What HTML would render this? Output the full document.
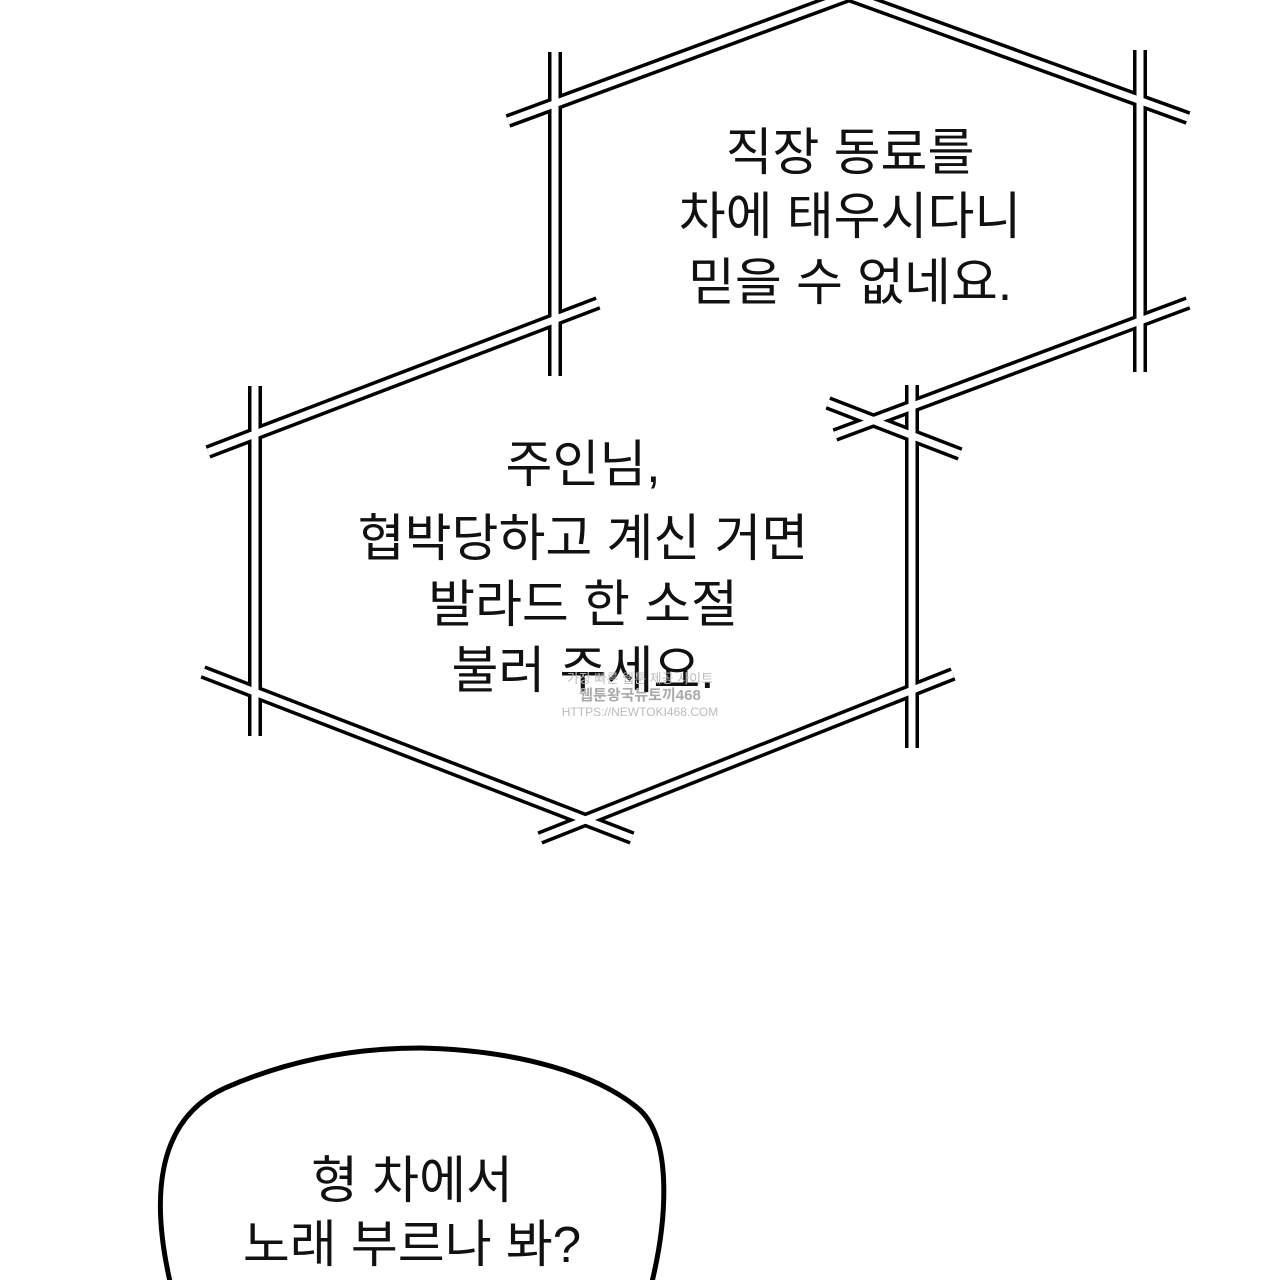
<!DOCTYPE html>
<html><head><meta charset="utf-8"><style>
html,body{margin:0;padding:0;background:#fff;width:1280px;height:1280px;overflow:hidden}
svg{display:block}
text{font-family:"Liberation Sans","Noto Sans CJK KR","NanumGothic",sans-serif;font-size:51px;fill:#111;text-anchor:middle}
</style></head><body>
<svg width="1280" height="1280" viewBox="0 0 1280 1280">
<g id="bars" stroke-linecap="butt">
<g stroke="#000" stroke-width="14">
<line x1="508" y1="121" x2="852" y2="-6"/>
<line x1="846" y1="-6" x2="1188" y2="118"/>
<line x1="555" y1="52" x2="555" y2="376"/>
<line x1="1140" y1="50" x2="1140" y2="372"/>
<line x1="1188" y1="303" x2="835" y2="435"/>
<line x1="598" y1="303" x2="208" y2="452"/>
<line x1="255" y1="386" x2="255" y2="736"/>
<line x1="912" y1="385" x2="912" y2="748"/>
<line x1="828" y1="403" x2="960" y2="454"/>
<line x1="203" y1="672" x2="632" y2="838"/>
<line x1="540" y1="838" x2="953" y2="674"/>
</g>
<g stroke="#fff" stroke-width="7">
<line x1="508" y1="121" x2="852" y2="-6"/>
<line x1="846" y1="-6" x2="1188" y2="118"/>
<line x1="555" y1="52" x2="555" y2="376"/>
<line x1="1140" y1="50" x2="1140" y2="372"/>
<line x1="1188" y1="303" x2="835" y2="435"/>
<line x1="598" y1="303" x2="208" y2="452"/>
<line x1="255" y1="386" x2="255" y2="736"/>
<line x1="912" y1="385" x2="912" y2="748"/>
<line x1="828" y1="403" x2="960" y2="454"/>
<line x1="203" y1="672" x2="632" y2="838"/>
<line x1="540" y1="838" x2="953" y2="674"/>
</g>
</g>
<text x="850" y="170">직장 동료를</text>
<text x="850" y="234">차에 태우시다니</text>
<text x="850" y="300">믿을 수 없네요.</text>
<text x="583" y="482">주인님,</text>
<text x="583" y="556">협박당하고 계신 거면</text>
<text x="583" y="622">발라드 한 소절</text>
<text x="583" y="688">불러 주세요.</text>
<text x="640" y="683" style="font-size:13px;fill:#bbb">가장 빠른 웹툰 제공 사이트</text>
<text x="640" y="700" style="font-size:15px;fill:#aaa;font-weight:bold">웹툰왕국뉴토끼468</text>
<text x="640" y="716" style="font-size:12px;fill:#bbb">HTTPS://NEWTOKI468.COM</text>
<path d="M172,1290 C150,1200 155,1120 225,1088 C300,1055 370,1048 420,1048 C520,1050 600,1075 640,1110 C672,1140 668,1220 650,1290" fill="#fff" stroke="#000" stroke-width="5"/>
<text x="412" y="1198">형 차에서</text>
<text x="412" y="1262">노래 부르나 봐?</text>
</svg>
</body></html>
